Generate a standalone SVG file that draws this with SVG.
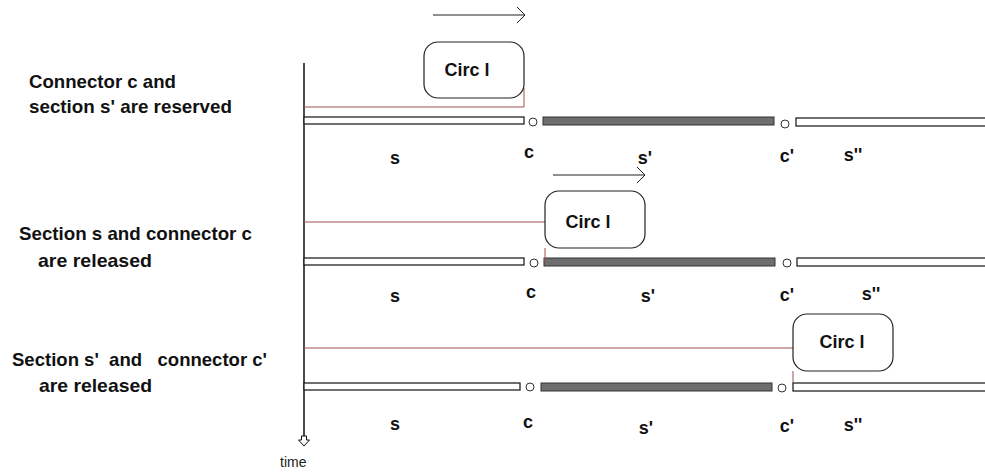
<svg xmlns="http://www.w3.org/2000/svg" width="985" height="473" viewBox="0 0 985 473">
<defs>
<style>
.lbl{font-family:"Liberation Sans",Arial,sans-serif;font-weight:bold;font-size:18px;fill:#111}
.cap{font-family:"Liberation Sans",Arial,sans-serif;font-weight:bold;font-size:19px;fill:#111;white-space:pre}
.circ{font-family:"Liberation Sans",Arial,sans-serif;font-weight:bold;font-size:18px;fill:#111}
.box{fill:#fff;stroke:#222;stroke-width:1.2}
.sec{fill:#fff;stroke:#222;stroke-width:1.3}
.res{fill:#6e6e6e;stroke:#333;stroke-width:1}
.con{fill:#fff;stroke:#333;stroke-width:1}
.red{stroke:#a05050;stroke-width:1;fill:none}
.arr{stroke:#222;stroke-width:1;fill:none}
</style>
</defs>
<rect width="985" height="473" fill="#fff"/>
<g id="timeline">
<line x1="304" y1="63" x2="304" y2="437" stroke="#111" stroke-width="1.5"/>
<path d="M301.5 436 L306.5 436 L306.5 440 L309.5 440 L304 446 L298.5 440 L301.5 440 Z" fill="#fff" stroke="#111" stroke-width="1"/>
<text x="280" y="467" style="font-family:'Liberation Sans',Arial,sans-serif;font-size:14px;fill:#222">time</text>
</g>
<g id="captions">
<text class="cap" x="29" y="88" textLength="147" lengthAdjust="spacingAndGlyphs">Connector c and</text>
<text class="cap" x="29" y="113" textLength="203" lengthAdjust="spacingAndGlyphs">section s' are reserved</text>
<text class="cap" x="19" y="240" textLength="233" lengthAdjust="spacingAndGlyphs">Section s and connector c</text>
<text class="cap" x="38" y="267" textLength="114" lengthAdjust="spacingAndGlyphs">are released</text>
<text class="cap" x="12" y="366" textLength="255" lengthAdjust="spacingAndGlyphs">Section s'  and   connector c'</text>
<text class="cap" x="39" y="392" textLength="113" lengthAdjust="spacingAndGlyphs">are released</text>
</g>
<g id="row1">
<rect class="sec" x="304" y="117" width="220" height="7"/>
<circle class="con" cx="533" cy="122" r="4"/>
<rect class="res" x="543" y="117" width="231" height="8"/>
<circle class="con" cx="785" cy="124" r="4"/>
<rect class="sec" x="796" y="118" width="195" height="8"/>
<text class="lbl" x="395" y="164" text-anchor="middle">s</text>
<text class="lbl" x="529" y="158" text-anchor="middle">c</text>
<text class="lbl" x="645" y="164" text-anchor="middle">s'</text>
<text class="lbl" x="787" y="162" text-anchor="middle">c'</text>
<text class="lbl" x="853" y="161" text-anchor="middle">s''</text>
</g>
<g id="row2">
<rect class="sec" x="304" y="258" width="220" height="7"/>
<circle class="con" cx="534" cy="263" r="4"/>
<rect class="res" x="544" y="258" width="231" height="8"/>
<circle class="con" cx="787" cy="263" r="4"/>
<rect class="sec" x="797" y="258" width="195" height="8"/>
<text class="lbl" x="395" y="302" text-anchor="middle">s</text>
<text class="lbl" x="531" y="298" text-anchor="middle">c</text>
<text class="lbl" x="648" y="302" text-anchor="middle">s'</text>
<text class="lbl" x="787" y="301" text-anchor="middle">c'</text>
<text class="lbl" x="871" y="300" text-anchor="middle">s''</text>
</g>
<g id="row3">
<rect class="sec" x="304" y="383" width="216" height="7"/>
<circle class="con" cx="530" cy="387" r="4"/>
<rect class="res" x="541" y="383" width="231" height="8"/>
<circle class="con" cx="782" cy="388" r="4"/>
<rect class="sec" x="793" y="383" width="198" height="8"/>
<text class="lbl" x="395" y="430" text-anchor="middle">s</text>
<text class="lbl" x="528" y="428" text-anchor="middle">c</text>
<text class="lbl" x="646" y="434" text-anchor="middle">s'</text>
<text class="lbl" x="787" y="432" text-anchor="middle">c'</text>
<text class="lbl" x="853" y="431" text-anchor="middle">s''</text>
</g>
<g id="connectors">
<path class="red" d="M304 107 H524 V88"/>
<path class="red" d="M304 222 H545 M545 248 V262"/>
<path class="red" d="M304 348 H793 M793 371 V383"/>
<path class="arr" d="M433 15 H525 M517 7 L525 15 L517 23"/>
<path class="arr" d="M553 175 H645 M637 167 L645 175 L637 183"/>
</g>
<g id="circ1">
<rect class="box" x="424" y="42" width="100" height="56" rx="14"/>
<text class="circ" x="467" y="76" text-anchor="middle">Circ l</text>
</g>
<g id="circ2">
<rect class="box" x="545" y="191" width="100" height="57" rx="14"/>
<text class="circ" x="588" y="228" text-anchor="middle">Circ l</text>
</g>
<g id="circ3">
<rect class="box" x="793" y="314" width="100" height="57" rx="14"/>
<text class="circ" x="842" y="348" text-anchor="middle">Circ l</text>
</g>
</svg>
